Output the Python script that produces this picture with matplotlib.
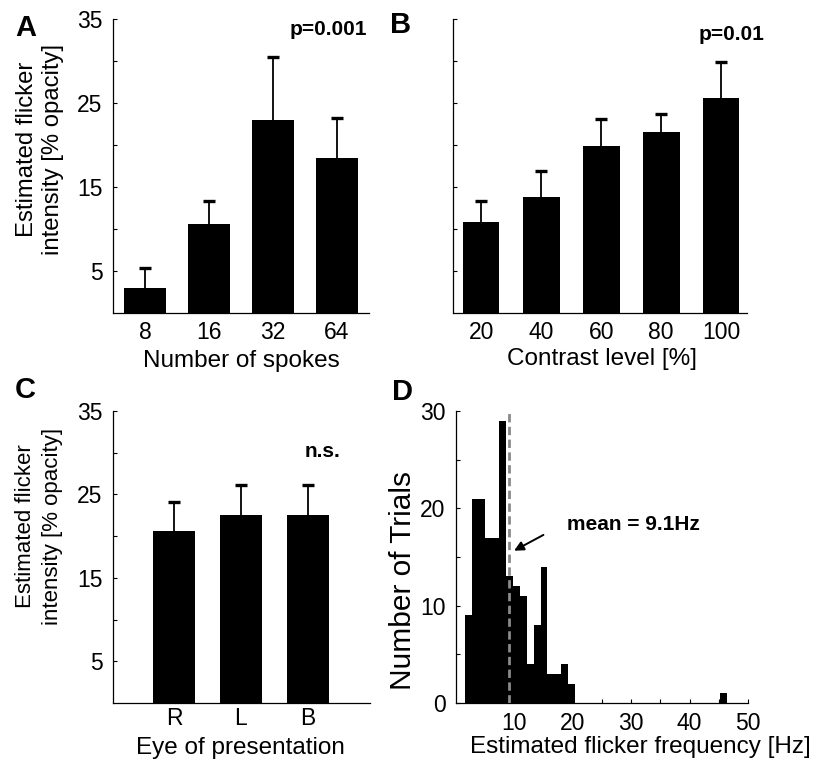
"""Flicker intensity bar panels (A-C) and flicker frequency histogram (D)."""

import matplotlib

matplotlib.use("Agg")  # headless backend
import matplotlib.pyplot as plt  # noqa: E402
import numpy as np  # noqa: E402

plt.rcParams["font.family"] = ["Liberation Sans", "DejaVu Sans"]

# --- data ---------------------------------------------------------------
spokes = ["8", "16", "32", "64"]
spokes_mean = [3.0, 10.6, 23.0, 18.4]
spokes_sem = [2.4, 2.7, 7.5, 4.8]

contrast = ["20", "40", "60", "80", "100"]
contrast_mean = [10.8, 13.8, 19.9, 21.5, 25.6]
contrast_sem = [2.5, 3.1, 3.2, 2.2, 4.3]

eyes = ["R", "L", "B"]
eye_mean = [20.6, 22.5, 22.5]
eye_sem = [3.5, 3.6, 3.6]

# histogram of estimated flicker frequency (Hz)
freq_bin_start = 1.5
freq_bin_width = 1.18
freq_counts = [9, 21, 21, 17, 17, 29, 13, 12, 11, 4, 8, 14, 3, 3, 4, 2] + [0] * 21 + [1]
freq_mean = 9.1

W, H = 820, 759
TICK_FS = 16.5
LABEL_FS = 17.5
YLABEL = "Estimated flicker\nintensity [% opacity]"


def px_axes(fig, left, top, right, bottom):
    return fig.add_axes([left / W, 1 - bottom / H, (right - left) / W, (bottom - top) / H])


def style(ax):
    for s in ("top", "right"):
        ax.spines[s].set_visible(False)
    for s in ("left", "bottom"):
        ax.spines[s].set_linewidth(0.9)
    ax.tick_params(axis="both", direction="in", length=3, width=0.8,
                   labelsize=TICK_FS)


def bar_panel(ax, labels, means, sems, width, xlim, show_ylabels=True, xpad=6):
    x = np.arange(len(labels))
    ax.bar(x, means, width=width, color="black", zorder=2)
    _, caps, _ = ax.errorbar(x, means, yerr=[np.zeros(len(sems)), sems], fmt="none",
                             ecolor="black", elinewidth=1.3, capsize=4.5,
                             capthick=2.4, zorder=1)
    caps[0].set_visible(False)  # only the upper half of the error bar is drawn
    style(ax)
    ax.set_xlim(*xlim)
    ax.set_ylim(0, 35)
    ax.set_xticks(x)
    ax.set_xticklabels(labels)
    ax.tick_params(axis="x", length=0, pad=xpad)
    ax.set_yticks(np.arange(5, 36, 5))
    if show_ylabels:
        ax.set_yticklabels(["5", "", "15", "", "25", "", "35"])
    else:
        ax.set_yticklabels([])
    ax.tick_params(axis="y", pad=7.5)


fig = plt.figure(figsize=(W / 100, H / 100), dpi=100)

# A
ax_a = px_axes(fig, 113, 19, 369, 313)
bar_panel(ax_a, spokes, spokes_mean, spokes_sem, 0.66, (-0.5, 3.5))
ax_a.text(0.5, -0.184, "Number of spokes", transform=ax_a.transAxes,
          ha="center", va="baseline", fontsize=LABEL_FS)
ax_a.text(-0.285, 0.558, YLABEL, transform=ax_a.transAxes, rotation=90,
          ha="center", va="center", fontsize=17.2, linespacing=1.2)
ax_a.text(3.47, 33.1, "p=0.001", ha="right", va="baseline",
          fontsize=15, fontweight="bold")

# B
ax_b = px_axes(fig, 453, 19, 747, 313)
bar_panel(ax_b, contrast, contrast_mean, contrast_sem, 0.61, (-0.47, 4.43),
          show_ylabels=False)
ax_b.text(0.508, -0.177, "Contrast level [%]", transform=ax_b.transAxes,
          ha="center", va="baseline", fontsize=LABEL_FS)
ax_b.text(4.17, 32.5, "p=0.01", ha="center", va="baseline",
          fontsize=15, fontweight="bold")

# C
ax_c = px_axes(fig, 113, 411, 370, 703)
bar_panel(ax_c, eyes, eye_mean, eye_sem, 0.63, (-0.91, 2.93), xpad=3)
ax_c.text(0.496, -0.175, "Eye of presentation", transform=ax_c.transAxes,
          ha="center", va="baseline", fontsize=LABEL_FS)
ax_c.text(-0.288, 0.606, YLABEL, transform=ax_c.transAxes, rotation=90,
          ha="center", va="center", fontsize=16, linespacing=1.4)
ax_c.text(2.22, 29.5, "n.s.", ha="center", va="baseline",
          fontsize=15, fontweight="bold")

# D
ax_d = px_axes(fig, 456, 411, 748, 703)
edges = freq_bin_start + freq_bin_width * np.arange(len(freq_counts) + 1)
centers = (edges[:-1] + edges[1:]) / 2
ax_d.hist(centers, bins=edges, weights=freq_counts, color="black", zorder=2)
ax_d.vlines(freq_mean, 0, 29.8, colors="#8a8a8a", linestyles=(0, (3, 1.6)),
            linewidth=2.0, zorder=3)
ax_d.annotate("", xy=(9.95, 15.65), xytext=(14.97, 17.27),
              arrowprops=dict(arrowstyle="-|>", color="black", lw=1.4,
                              mutation_scale=14, shrinkA=0, shrinkB=0))
ax_d.text(19.0, 17.8, f"mean = {freq_mean}Hz", ha="left", va="baseline",
          fontsize=15, fontweight="bold")
style(ax_d)
ax_d.set_xlim(0, 50)
ax_d.set_ylim(0, 30)
ax_d.set_xticks(np.arange(5, 51, 5))
ax_d.set_xticklabels(["" if v % 10 else str(v) for v in range(5, 51, 5)])
ax_d.set_yticks(np.arange(0, 31, 5))
ax_d.set_yticklabels(["" if v % 10 else str(v) for v in range(0, 31, 5)])
ax_d.tick_params(axis="x", pad=6.5)
ax_d.tick_params(axis="y", pad=7.5)
ax_d.text(0.63, -0.171, "Estimated flicker frequency [Hz]", transform=ax_d.transAxes,
          ha="center", va="baseline", fontsize=LABEL_FS)
ax_d.text(-0.182, 0.421, "Number of Trials", transform=ax_d.transAxes, rotation=90,
          ha="center", va="center", fontsize=21.5)

# panel letters
for letter, x, y in (("A", 26, 36), ("B", 401, 33), ("C", 25, 398), ("D", 403, 400)):
    fig.text(x / W, 1 - y / H, letter, ha="center", va="baseline",
             fontsize=21, fontweight="bold")

fig.savefig("out.png", dpi=100)
plt.close(fig)
